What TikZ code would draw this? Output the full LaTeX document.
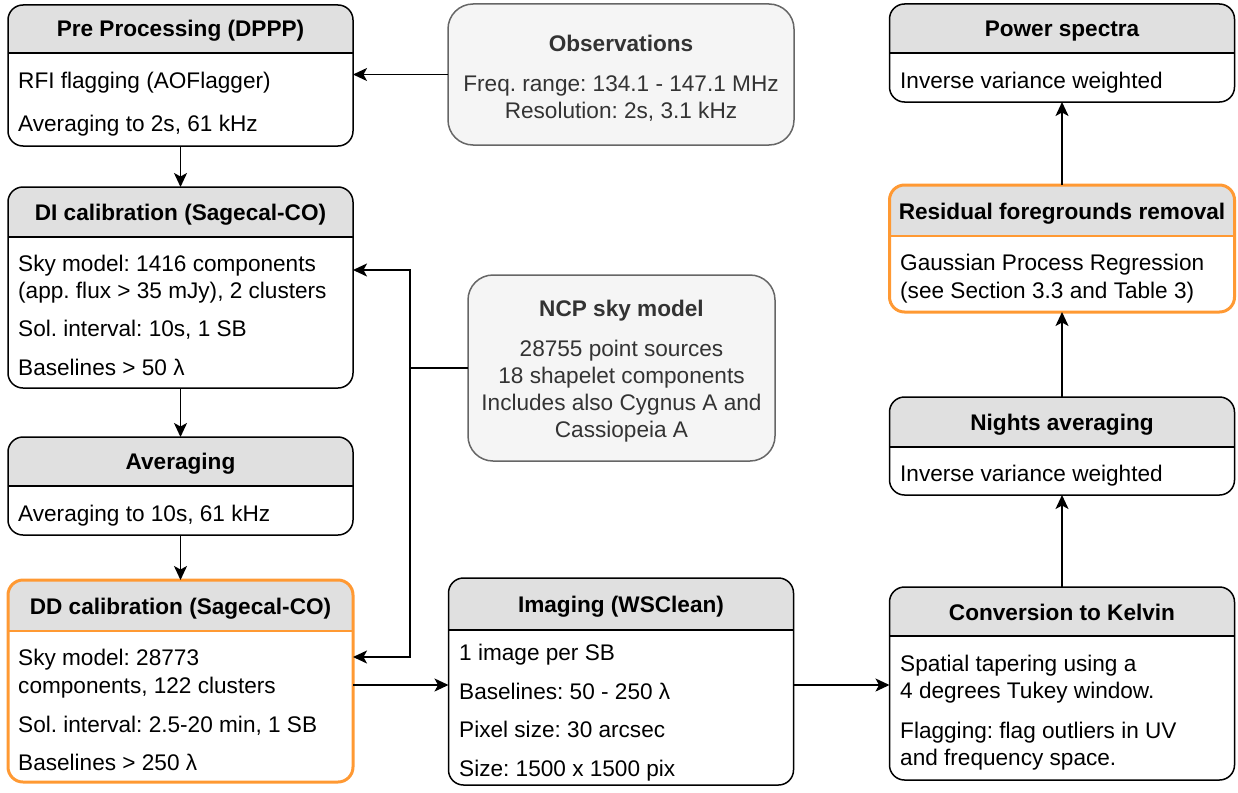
\documentclass[tikz,border=0pt]{standalone}
\usepackage{fontspec}
\setmainfont{Liberation Sans}
\frenchspacing
\usetikzlibrary{arrows.meta}
\pgfdeclarelayer{bg}
\pgfsetlayers{bg,main}
\definecolor{hdrgray}{HTML}{E0E0E0}
\definecolor{notefill}{HTML}{F5F5F5}
\definecolor{noteline}{HTML}{666666}
\definecolor{notetext}{HTML}{333333}
\definecolor{hilite}{HTML}{FF9933}
\tikzset{
  lane/.style={draw, rounded corners=15pt, line width=1.5pt, outer sep=0pt, minimum width=345pt},
  hot/.style={draw=hilite, line width=3pt},
  note/.style={draw=noteline, fill=notefill, rounded corners=25pt, line width=1.5pt, outer sep=0pt},
  title/.style={anchor=base, inner sep=0pt, font=\fontsize{22.6}{27}\selectfont\bfseries},
  txt/.style={anchor=base west, inner sep=0pt, font=\fontsize{22.6}{27}\selectfont},
  ctxt/.style={anchor=base, inner sep=0pt, text=notetext, font=\fontsize{22.6}{27}\selectfont},
  flow/.style={line width=1.6pt, -{Stealth[length=14pt,width=13pt,inset=3.5pt]}},
}
% grey header band of a lane: box, header height, divider style
\newcommand\lanehead[3]{%
  \begin{pgfonlayer}{bg}
    \begin{scope}
      \clip[rounded corners=15pt] (#1.south west) rectangle (#1.north east);
      \fill[hdrgray] (#1.north west) rectangle ([yshift=-#2]#1.north east);
    \end{scope}
  \end{pgfonlayer}
  \draw[line width=1.5pt,#3] ([yshift=-#2]#1.north west) -- ([yshift=-#2]#1.north east);
}

\begin{document}
\begin{tikzpicture}[x=1pt, y=-1pt]
  \useasboundingbox (0,0) rectangle (1238,792);

  % calibration column
  \node (pre) [lane, minimum height=141pt] at (180.5,75.5) {};
  \lanehead{pre}{48pt}{black}
  \node [title] at (180.5,37) {Pre Processing (DPPP)};
  \node [txt] at (18,88) {RFI flagging (AOFlagger)};
  \node [txt] at (18,131) {Averaging to 2s, 61 kHz};

  \node (dical) [lane, minimum height=201pt] at (180.5,287.5) {};
  \lanehead{dical}{50pt}{black}
  \node [title] at (180.5,220) {DI calibration (Sagecal-CO)};
  \node [txt] at (18,271) {Sky model: 1416 components};
  \node [txt] at (18,298) {(app. flux > 35 mJy), 2 clusters};
  \node [txt] at (18,336) {Sol. interval: 10s, 1 SB};
  \node [txt] at (18,375) {Baselines > 50 λ};

  \node (avg) [lane, minimum height=98pt] at (180.5,486) {};
  \lanehead{avg}{49pt}{black}
  \node [title] at (180.5,469) {Averaging};
  \node [txt] at (18,521) {Averaging to 10s, 61 kHz};

  \node (ddcal) [lane, hot, minimum height=202pt] at (180.5,681) {};
  \lanehead{ddcal}{51pt}{draw=hilite, line width=2pt}
  \node [title] at (180.5,614) {DD calibration (Sagecal-CO)};
  \node [txt] at (18,665) {Sky model: 28773};
  \node [txt] at (18,693) {components, 122 clusters};
  \node [txt] at (18,732) {Sol. interval: 2.5-20 min, 1 SB};
  \node [txt] at (18,770) {Baselines > 250 λ};

  % inputs
  \node (obs) [note, minimum width=346pt, minimum height=141pt] at (621,74.5) {};
  \node [title, text=notetext] at (621,52) {Observations};
  \node [ctxt] at (621,91) {Freq. range: 134.1 - 147.1 MHz};
  \node [ctxt] at (621,118) {Resolution: 2s, 3.1 kHz};

  \node (ncp) [note, minimum width=307pt, minimum height=186pt] at (621.5,368) {};
  \node [title, text=notetext] at (621.5,316) {NCP sky model};
  \node [ctxt] at (621.5,356) {28755 point sources};
  \node [ctxt] at (621.5,383) {18 shapelet components};
  \node [ctxt] at (621.5,410) {Includes also Cygnus A and};
  \node [ctxt] at (621.5,437) {Cassiopeia A};

  \node (img) [lane, minimum height=207pt] at (621,681.5) {};
  \lanehead{img}{52pt}{black}
  \node [title] at (621,612) {Imaging (WSClean)};
  \node [txt] at (459,660) {1 image per SB};
  \node [txt] at (459,699) {Baselines: 50 - 250 λ};
  \node [txt] at (459,737) {Pixel size: 30 arcsec};
  \node [txt] at (459,776) {Size: 1500 x 1500 pix};

  % power spectrum column
  \node (kelvin) [lane, minimum height=193pt] at (1062,683.5) {};
  \lanehead{kelvin}{49pt}{black}
  \node [title] at (1062,620) {Conversion to Kelvin};
  \node [txt] at (900,671) {Spatial tapering using a};
  \node [txt] at (900,698) {4 degrees Tukey window.};
  \node [txt] at (900,738) {Flagging: flag outliers in UV};
  \node [txt] at (900,765) {and frequency space.};

  \node (nights) [lane, minimum height=98pt] at (1062,446) {};
  \lanehead{nights}{50pt}{black}
  \node [title] at (1062,430) {Nights averaging};
  \node [txt] at (900,481) {Inverse variance weighted};

  \node (resid) [lane, hot, minimum height=127pt] at (1062,248.5) {};
  \lanehead{resid}{51pt}{draw=hilite, line width=2pt}
  \node [title] at (1062,219) {Residual foregrounds removal};
  \node [txt] at (900,270) {Gaussian Process Regression};
  \node [txt] at (900,298) {(see Section 3.3 and Table 3)};

  \node (power) [lane, minimum height=98pt] at (1062,53) {};
  \lanehead{power}{49pt}{black}
  \node [title] at (1062,37) {Power spectra};
  \node [txt] at (900,88) {Inverse variance weighted};

  % connectors
  \coordinate (tee) at (410,368);
  \draw [flow] (obs.west) -- (obs.west -| pre.east);
  \draw [flow] (pre.south) -- (dical.north);
  \draw [flow] (dical.south) -- (avg.north);
  \draw [flow] (avg.south) -- (ddcal.north);
  \draw [line width=1.6pt] (ncp.west) -- (tee);
  \draw [flow] (tee) |- ([yshift=17.5pt]dical.east);
  \draw [flow] (tee) |- ([yshift=24pt]ddcal.east);
  \draw [flow] ([yshift=-4pt]ddcal.east) -- ([yshift=-4pt]ddcal.east -| img.west);
  \draw [flow] ([yshift=-3.5pt]img.east) -- ([yshift=-3.5pt]img.east -| kelvin.west);
  \draw [flow] (kelvin.north) -- (nights.south);
  \draw [flow] (nights.north) -- (resid.south);
  \draw [flow] (resid.north) -- (power.south);
\end{tikzpicture}
\end{document}
